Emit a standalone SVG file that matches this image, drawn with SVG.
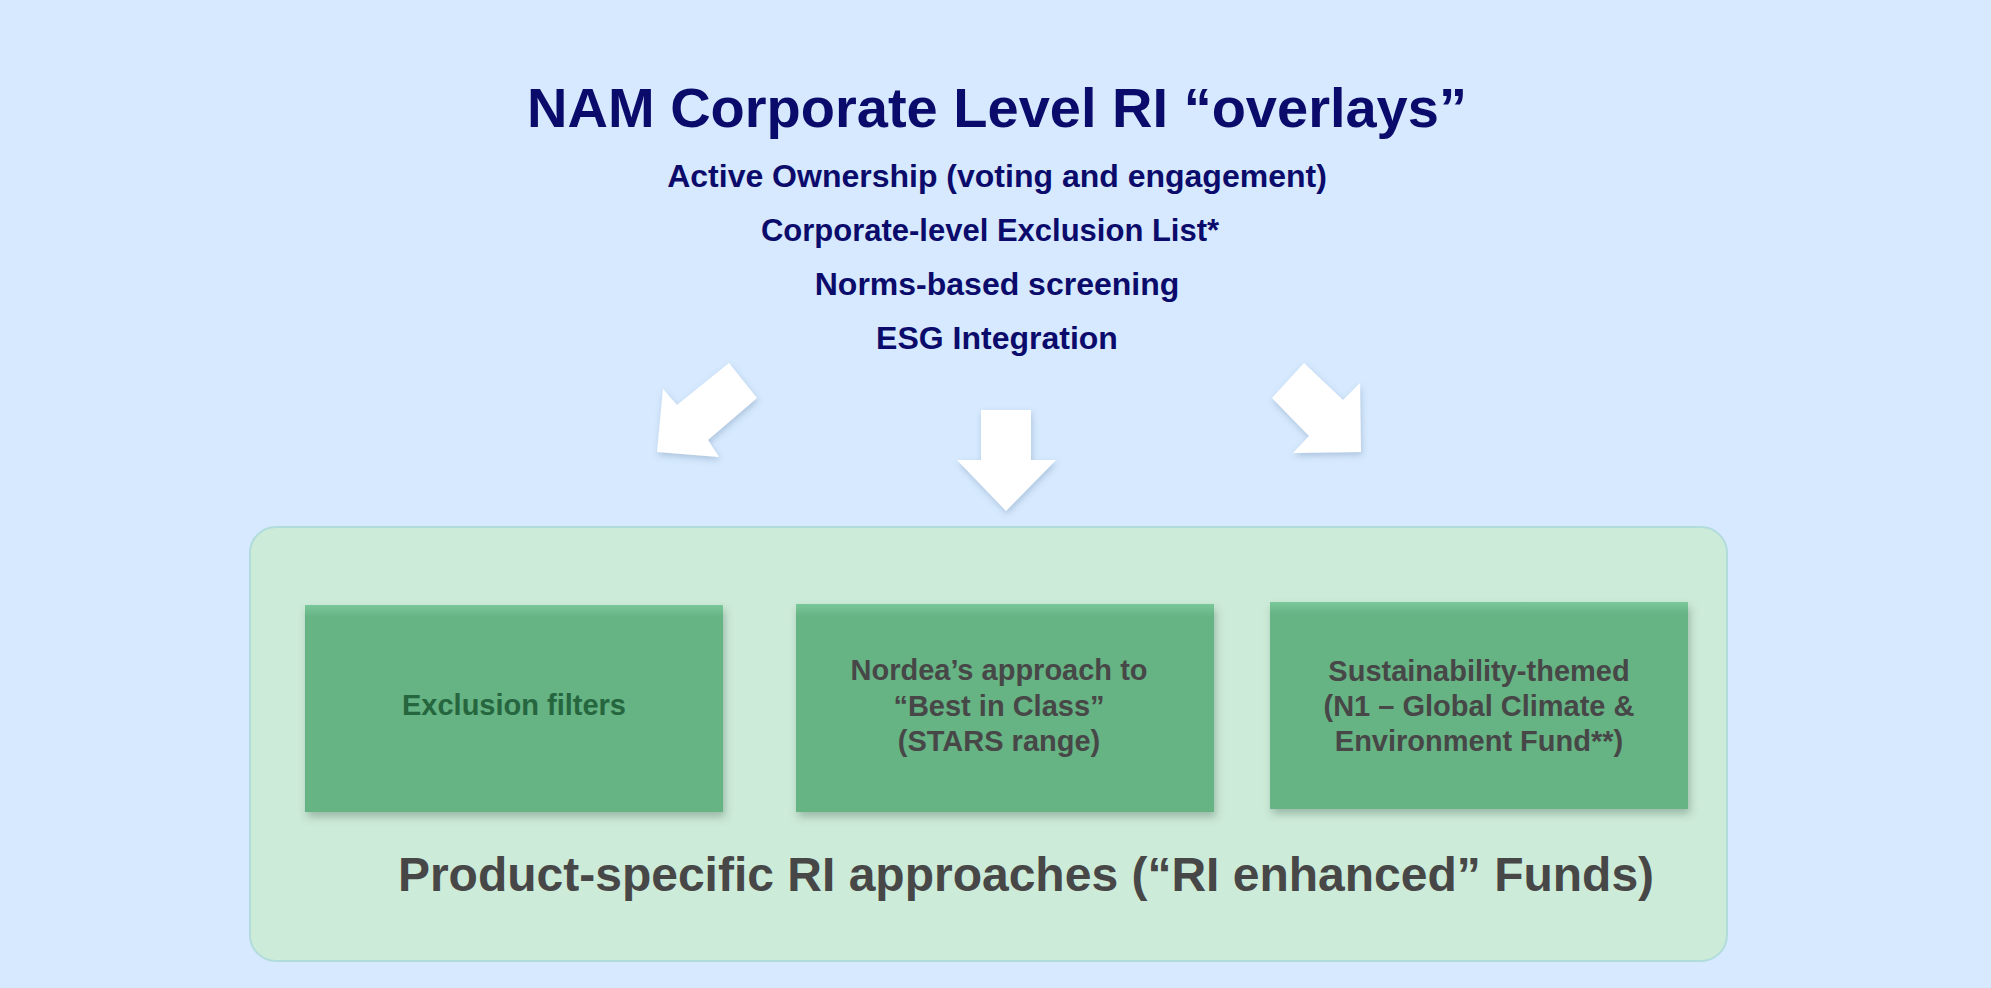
<svg xmlns="http://www.w3.org/2000/svg" width="1991" height="988" viewBox="0 0 1991 988">
<defs>
<style>
.t{font-family:"Liberation Sans",Arial,sans-serif;font-weight:bold;text-anchor:middle}
.title{font-size:56px;fill:#0B0B6B}
.sub{font-size:32px;fill:#0B0B6B}
.box{fill:url(#boxg);filter:url(#sh)}
.lbl{font-size:29px;fill:#474747}
.arrow{fill:#FFFFFF;filter:url(#ash)}
</style>
<linearGradient id="boxg" x1="0" y1="0" x2="0" y2="1">
<stop offset="0" stop-color="#79C899"/>
<stop offset="0.06" stop-color="#66B384"/>
<stop offset="1" stop-color="#66B384"/>
</linearGradient>
<filter id="sh" x="-10%" y="-10%" width="125%" height="130%">
<feDropShadow dx="2" dy="5" stdDeviation="4" flood-color="#3A5A48" flood-opacity="0.35"/>
</filter>
<filter id="ash" x="-20%" y="-20%" width="150%" height="150%">
<feDropShadow dx="1" dy="3" stdDeviation="3" flood-color="#6080A0" flood-opacity="0.35"/>
</filter>
</defs>
<rect x="0" y="0" width="1991" height="988" fill="#D6E9FE"/>
<g id="header">
<text class="t title" x="997" y="127">NAM Corporate Level RI “overlays”</text>
<text class="t sub" x="997" y="187">Active Ownership (voting and engagement)</text>
<text class="t sub" x="990" y="241" font-size="31" style="font-size:31px">Corporate-level Exclusion List*</text>
<text class="t sub" x="997" y="295">Norms-based screening</text>
<text class="t sub" x="997" y="349">ESG Integration</text>
</g>
<g id="connectors">
<polygon class="arrow" points="657,452 719,457 708,440 757,398 729,363 677,405 663,389"/>
<polygon class="arrow" points="981,410 1031,410 1031,460 1056,460 1006,511 957,460 981,460"/>
<polygon class="arrow" points="1304,363 1272,398 1309,436 1293,453 1361,452 1360,383 1343,400"/>
</g>
<g id="container">
<rect x="250" y="527" width="1477" height="434" rx="26" ry="26" fill="#CDEBD9" stroke="#B2DCDC" stroke-width="2"/>
<text class="t" x="1026" y="891" font-size="48" fill="#474747">Product-specific RI approaches (“RI enhanced” Funds)</text>
</g>
<g id="box1">
<rect class="box" x="305" y="605" width="418" height="207"/>
<text class="t lbl" x="514" y="715" style="fill:#25663F">Exclusion filters</text>
</g>
<g id="box2">
<rect class="box" x="796" y="604" width="418" height="208"/>
<text class="t lbl" x="999" y="680">Nordea’s approach to</text>
<text class="t lbl" x="999" y="716">“Best in Class”</text>
<text class="t lbl" x="999" y="751">(STARS range)</text>
</g>
<g id="box3">
<rect class="box" x="1270" y="602" width="418" height="207"/>
<text class="t lbl" x="1479" y="681">Sustainability-themed</text>
<text class="t lbl" x="1479" y="716">(N1 – Global Climate &amp;</text>
<text class="t lbl" x="1479" y="751">Environment Fund**)</text>
</g>
</svg>
